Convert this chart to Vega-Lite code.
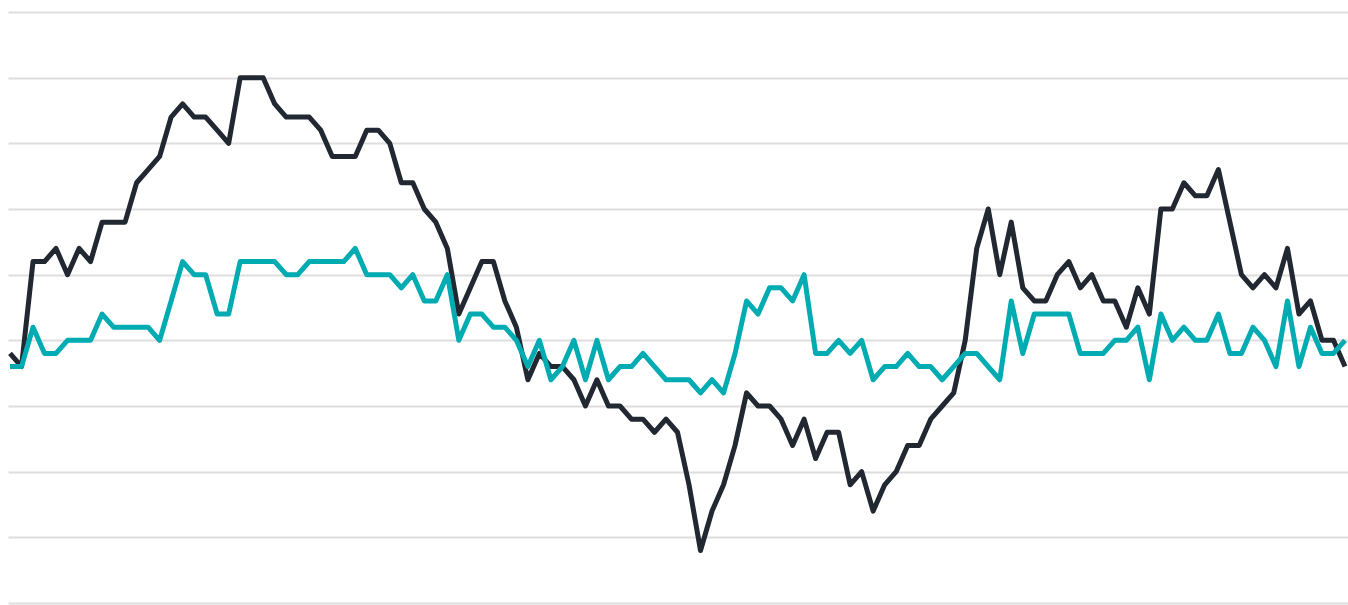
{
  "$schema": "https://vega.github.io/schema/vega-lite/v6.json",
  "width": 1340,
  "height": 591,
  "autosize": {"type": "none"},
  "padding": {"left": 8, "top": 12, "right": 0, "bottom": 2},
  "background": "white",
  "config": {"view": {"stroke": null}},
  "data": {"values": [
    {"i":0,"b":19,"t":18},{"i":1,"b":18,"t":18},{"i":2,"b":26,"t":21},{"i":3,"b":26,"t":19},{"i":4,"b":27,"t":19},
    {"i":5,"b":25,"t":20},{"i":6,"b":27,"t":20},{"i":7,"b":26,"t":20},{"i":8,"b":29,"t":22},{"i":9,"b":29,"t":21},
    {"i":10,"b":29,"t":21},{"i":11,"b":32,"t":21},{"i":12,"b":33,"t":21},{"i":13,"b":34,"t":20},{"i":14,"b":37,"t":23},
    {"i":15,"b":38,"t":26},{"i":16,"b":37,"t":25},{"i":17,"b":37,"t":25},{"i":18,"b":36,"t":22},{"i":19,"b":35,"t":22},
    {"i":20,"b":40,"t":26},{"i":21,"b":40,"t":26},{"i":22,"b":40,"t":26},{"i":23,"b":38,"t":26},{"i":24,"b":37,"t":25},
    {"i":25,"b":37,"t":25},{"i":26,"b":37,"t":26},{"i":27,"b":36,"t":26},{"i":28,"b":34,"t":26},{"i":29,"b":34,"t":26},
    {"i":30,"b":34,"t":27},{"i":31,"b":36,"t":25},{"i":32,"b":36,"t":25},{"i":33,"b":35,"t":25},{"i":34,"b":32,"t":24},
    {"i":35,"b":32,"t":25},{"i":36,"b":30,"t":23},{"i":37,"b":29,"t":23},{"i":38,"b":27,"t":25},{"i":39,"b":22,"t":20},
    {"i":40,"b":24,"t":22},{"i":41,"b":26,"t":22},{"i":42,"b":26,"t":21},{"i":43,"b":23,"t":21},{"i":44,"b":21,"t":20},
    {"i":45,"b":17,"t":18},{"i":46,"b":19,"t":20},{"i":47,"b":18,"t":17},{"i":48,"b":18,"t":18},{"i":49,"b":17,"t":20},
    {"i":50,"b":15,"t":17},{"i":51,"b":17,"t":20},{"i":52,"b":15,"t":17},{"i":53,"b":15,"t":18},{"i":54,"b":14,"t":18},
    {"i":55,"b":14,"t":19},{"i":56,"b":13,"t":18},{"i":57,"b":14,"t":17},{"i":58,"b":13,"t":17},{"i":59,"b":9,"t":17},
    {"i":60,"b":4,"t":16},{"i":61,"b":7,"t":17},{"i":62,"b":9,"t":16},{"i":63,"b":12,"t":19},{"i":64,"b":16,"t":23},
    {"i":65,"b":15,"t":22},{"i":66,"b":15,"t":24},{"i":67,"b":14,"t":24},{"i":68,"b":12,"t":23},{"i":69,"b":14,"t":25},
    {"i":70,"b":11,"t":19},{"i":71,"b":13,"t":19},{"i":72,"b":13,"t":20},{"i":73,"b":9,"t":19},{"i":74,"b":10,"t":20},
    {"i":75,"b":7,"t":17},{"i":76,"b":9,"t":18},{"i":77,"b":10,"t":18},{"i":78,"b":12,"t":19},{"i":79,"b":12,"t":18},
    {"i":80,"b":14,"t":18},{"i":81,"b":15,"t":17},{"i":82,"b":16,"t":18},{"i":83,"b":20,"t":19},{"i":84,"b":27,"t":19},
    {"i":85,"b":30,"t":18},{"i":86,"b":25,"t":17},{"i":87,"b":29,"t":23},{"i":88,"b":24,"t":19},{"i":89,"b":23,"t":22},
    {"i":90,"b":23,"t":22},{"i":91,"b":25,"t":22},{"i":92,"b":26,"t":22},{"i":93,"b":24,"t":19},{"i":94,"b":25,"t":19},
    {"i":95,"b":23,"t":19},{"i":96,"b":23,"t":20},{"i":97,"b":21,"t":20},{"i":98,"b":24,"t":21},{"i":99,"b":22,"t":17},
    {"i":100,"b":30,"t":22},{"i":101,"b":30,"t":20},{"i":102,"b":32,"t":21},{"i":103,"b":31,"t":20},{"i":104,"b":31,"t":20},
    {"i":105,"b":33,"t":22},{"i":106,"b":29,"t":19},{"i":107,"b":25,"t":19},{"i":108,"b":24,"t":21},{"i":109,"b":25,"t":20},
    {"i":110,"b":24,"t":18},{"i":111,"b":27,"t":23},{"i":112,"b":22,"t":18},{"i":113,"b":23,"t":21},{"i":114,"b":20,"t":19},
    {"i":115,"b":20,"t":19},{"i":116,"b":18,"t":20}
  ]},
  "encoding": {
    "x": {"field": "i", "type": "quantitative", "scale": {"domain": [-0.174, 116.26], "nice": false, "zero": false}, "axis": null}
  },
  "layer": [
    {
      "mark": {"type": "line", "color": "#222831", "strokeWidth": 5, "strokeJoin": "round"},
      "encoding": {
        "y": {"field": "b", "type": "quantitative", "scale": {"domain": [0, 45], "nice": false, "zero": true},
          "axis": {"values": [0,5,10,15,20,25,30,35,40,45], "grid": true, "gridColor": "#dedede", "gridWidth": 2, "labels": false, "ticks": false, "domain": false, "title": null}}
      }
    },
    {
      "mark": {"type": "line", "color": "#00abb2", "strokeWidth": 5, "strokeJoin": "round"},
      "encoding": {
        "y": {"field": "t", "type": "quantitative", "scale": {"domain": [0, 45], "nice": false, "zero": true},
          "axis": {"values": [0,5,10,15,20,25,30,35,40,45], "grid": true, "gridColor": "#dedede", "gridWidth": 2, "labels": false, "ticks": false, "domain": false, "title": null}}
      }
    }
  ]
}
